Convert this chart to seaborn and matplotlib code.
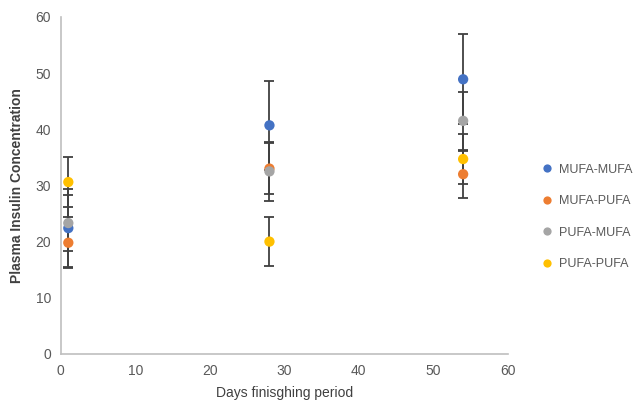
import matplotlib
matplotlib.use("Agg")
import matplotlib.pyplot as plt
import seaborn as sns
import pandas as pd

days = [1, 28, 54]
series = ["MUFA-MUFA", "MUFA-PUFA", "PUFA-MUFA", "PUFA-PUFA"]
mufa_mufa = [22.4, 40.7, 48.9]
mufa_pufa = [19.8, 33.0, 32.0]
pufa_mufa = [23.3, 32.5, 41.5]
pufa_pufa = [30.6, 20.0, 34.7]
err_mufa_mufa = [7.0, 7.9, 8.0]
err_mufa_pufa = [4.5, 4.5, 4.2]
err_pufa_mufa = [5.0, 5.2, 5.2]
err_pufa_pufa = [4.5, 4.4, 4.4]
colors = ["#4472C4", "#ED7D31", "#A5A5A5", "#FFC000"]

values = [mufa_mufa, mufa_pufa, pufa_mufa, pufa_pufa]
errors = [err_mufa_mufa, err_mufa_pufa, err_pufa_mufa, err_pufa_pufa]

rows = []
for s, v, e in zip(series, values, errors):
    for d, y, err in zip(days, v, e):
        rows.append({"Day": d, "Value": y, "Err": err, "Group": s})
df = pd.DataFrame(rows)

sns.set_style("white")
plt.rcParams['font.family'] = ['Liberation Sans', 'DejaVu Sans']

fig = plt.figure(figsize=(6.34, 4.13), dpi=100)
ax = fig.add_axes([0.096, 0.143, 0.705, 0.816])

for s in series:
    sub = df[df.Group == s]
    ax.errorbar(sub.Day, sub.Value, yerr=sub.Err, fmt="none", ecolor="#404040",
                elinewidth=1.3, capsize=3.5, capthick=1.3, zorder=2)

sns.scatterplot(data=df, x="Day", y="Value", hue="Group", hue_order=series,
                palette=colors, s=55, edgecolor="none", ax=ax, zorder=3)

ax.set_xlim(0, 60)
ax.set_ylim(0, 60)
ax.set_xticks(range(0, 61, 10))
ax.set_yticks(range(0, 61, 10))
ax.tick_params(axis="both", length=0, labelsize=10, labelcolor="#595959", pad=7)
for sp in ["top", "right"]:
    ax.spines[sp].set_visible(False)
for sp in ["left", "bottom"]:
    ax.spines[sp].set_color("#BFBFBF")
    ax.spines[sp].set_linewidth(1.2)

ax.set_xlabel("Days finisghing period", fontsize=10, color="#404040", labelpad=6)
ax.set_ylabel("Plasma Insulin Concentration", fontsize=10, color="#404040",
              fontweight="bold", labelpad=8)

leg = ax.legend(loc="center left", bbox_to_anchor=(0.835, 0.475),
                bbox_transform=fig.transFigure, frameon=False,
                fontsize=9, labelspacing=1.55, handletextpad=0.0,
                borderaxespad=0, markerscale=0.8)
for t in leg.get_texts():
    t.set_color("#595959")

fig.savefig("out.png", dpi=100)
